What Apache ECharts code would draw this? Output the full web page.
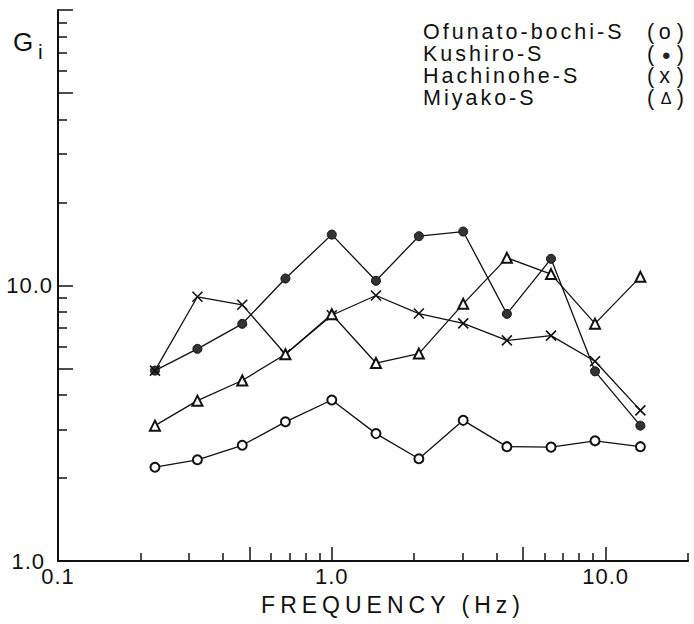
<!DOCTYPE html>
<html><head><meta charset="utf-8">
<script src="https://cdn.jsdelivr.net/npm/echarts@6/dist/echarts.min.js"></script>
<style>
html,body{margin:0;padding:0;background:#fff}
#c{width:694px;height:624px}
#c text[style*="22px"]{letter-spacing:1px}
#c text[style*="21.5px"]{letter-spacing:3px}
#c text[style*="23px"]{letter-spacing:5px}
</style></head><body><div id="c"></div>
<script>
// Frequencies (Hz)
const freq = [0.226, 0.323, 0.471, 0.677, 1.0, 1.45, 2.08, 3.02, 4.36, 6.32, 9.15, 13.4];
// Site amplification factors G_i
const ofunato   = [2.19, 2.33, 2.63, 3.20, 3.84, 2.90, 2.35, 3.24, 2.60, 2.59, 2.73, 2.60];
const kushiro   = [4.91, 5.89, 7.26, 10.6, 15.3, 10.4, 15.1, 15.7, 7.89, 12.5, 4.88, 3.10];
const hachinohe = [4.91, 9.10, 8.51, 5.63, 7.80, 9.20, 7.91, 7.29, 6.32, 6.58, 5.31, 3.52];
const miyako    = [3.10, 3.82, 4.52, 5.63, 7.86, 5.23, 5.66, 8.58, 12.6, 11.0, 7.27, 10.75];

const seriesNames = ['Ofunato-bochi-S', 'Kushiro-S', 'Hachinohe-S', 'Miyako-S'];
const legendMarks = ['o', '●', 'x', 'Δ'];

const xMinorTicks = [0.2, 0.3, 0.4, 0.6, 0.7, 0.8, 0.9, 2, 3, 4, 6, 7, 8, 9, 20];
const xMajorTicks = [0.5, 1, 5, 10];
const xTickLabels = {0.1: '0.1', 1: '1.0', 10: '10.0'};
const yMinorTicks = [2, 3, 4, 6, 7, 8, 9, 20, 30, 40, 60, 70, 80, 90];
const yMajorTicks = [5, 10, 50, 100];
const yTickLabels = {1: '1.0', 10: '10.0'};

const FONT = 'Liberation Sans, Arial, sans-serif';
const INK = '#111';

const chart = echarts.init(document.getElementById('c'), null, {renderer: 'svg'});

function pairs(ys) { return freq.map((f, i) => [f, ys[i]]); }

const markStyles = [
  {symbol: 'emptyCircle', symbolSize: 9, itemStyle: {color: INK, borderColor: INK, borderWidth: 1.4}},
  {symbol: 'circle', symbolSize: 9, itemStyle: {color: '#333', borderColor: INK, borderWidth: 1}},
  {symbol: 'path://M0,0L10,10M10,0L0,10', symbolSize: 10, itemStyle: {color: INK, borderColor: INK, borderWidth: 1.6}},
  {symbol: 'emptyTriangle', symbolSize: 10, itemStyle: {color: INK, borderColor: INK, borderWidth: 1.5}}
];
const dataSets = [ofunato, kushiro, hachinohe, miyako];

const series = seriesNames.map((name, k) => Object.assign({
  name: name,
  type: 'line',
  data: pairs(dataSets[k]),
  xAxisIndex: 0,
  yAxisIndex: 0,
  showAllSymbol: true,
  lineStyle: {color: INK, width: 1.3},
  emphasis: {disabled: true},
  animation: false
}, markStyles[k]));

const markRich = {
  n: {fontSize: 21.5, fontFamily: FONT, color: INK, width: 224},
  p: {fontSize: 21.5, fontFamily: FONT, color: INK},
  m0: {fontSize: 21.5, fontFamily: FONT, color: INK, width: 24, align: 'center'},
  m1: {fontSize: 15, fontFamily: FONT, color: '#222', width: 24, align: 'center'},
  m2: {fontSize: 21.5, fontFamily: FONT, color: INK, width: 24, align: 'center'},
  m3: {fontSize: 16, fontFamily: FONT, color: INK, width: 24, align: 'center'}
};

const option = {
  backgroundColor: '#fff',
  animation: false,
  grid: {left: 58, top: 10, width: 630, height: 551, containLabel: false, outerBoundsMode: 'none'},
  legend: {
    orient: 'vertical', left: 413, top: 16, itemGap: 0, itemWidth: 0, itemHeight: 0,
    icon: 'none', selectedMode: false,
    data: seriesNames,
    formatter: function (name) {
      const k = seriesNames.indexOf(name);
      return '{n|' + name + '}{p|(}{m' + k + '|' + legendMarks[k] + '}{p|)}';
    },
    textStyle: {color: INK, fontFamily: FONT, fontSize: 21.5, rich: markRich}
  },
  xAxis: [
    {
      type: 'log', logBase: 10, min: 0.1, max: 20, position: 'bottom',
      name: 'FREQUENCY (Hz)', nameLocation: 'middle', nameGap: 32, nameMoveOverlap: false,
      nameTextStyle: {fontSize: 23, fontFamily: FONT, color: INK, padding: [0, 0, 0, 40]},
      axisLine: {show: true, lineStyle: {color: INK, width: 2}},
      axisTick: {show: true, inside: true, length: 8, customValues: xMinorTicks, lineStyle: {color: INK, width: 1.5}},
      axisLabel: {show: false},
      splitLine: {show: false}, minorTick: {show: false}
    },
    {
      type: 'log', logBase: 10, min: 0.1, max: 20, position: 'bottom',
      axisLine: {show: false},
      axisTick: {show: true, inside: true, length: 14, customValues: xMajorTicks, lineStyle: {color: INK, width: 1.5}},
      axisLabel: {
        show: true, customValues: [0.1, 1, 10], margin: 7, lineHeight: 17,
        fontSize: 22, fontFamily: FONT, color: INK,
        formatter: function (v) { return xTickLabels[v] || ''; }
      },
      splitLine: {show: false}
    }
  ],
  yAxis: [
    {
      type: 'log', logBase: 10, min: 1, max: 100, position: 'left',
      axisLine: {show: true, lineStyle: {color: INK, width: 2}},
      axisTick: {show: true, inside: true, length: 9, customValues: yMinorTicks, lineStyle: {color: INK, width: 1.5}},
      axisLabel: {show: false},
      splitLine: {show: false}
    },
    {
      type: 'log', logBase: 10, min: 1, max: 100, position: 'left',
      axisLine: {show: false},
      axisTick: {show: true, inside: true, length: 15, customValues: yMajorTicks, lineStyle: {color: INK, width: 1.5}},
      axisLabel: {
        show: true, customValues: [1, 10], margin: 5,
        fontSize: 22, fontFamily: FONT, color: INK,
        formatter: function (v) { return v === 1 ? '{a|' + yTickLabels[v] + '}' : (yTickLabels[v] || ''); },
        rich: {a: {fontSize: 22, fontFamily: FONT, color: INK, padding: [0, 8, 0, 0]}}
      },
      splitLine: {show: false}
    }
  ],
  graphic: [
    {type: 'text', left: 13, top: 29, style: {text: 'G', fontSize: 26, fontFamily: FONT, fill: INK}},
    {type: 'text', left: 38, top: 41, style: {text: 'i', fontSize: 21, fontFamily: FONT, fill: INK}}
  ],
  series: series
};
chart.setOption(option);
</script></body></html>
